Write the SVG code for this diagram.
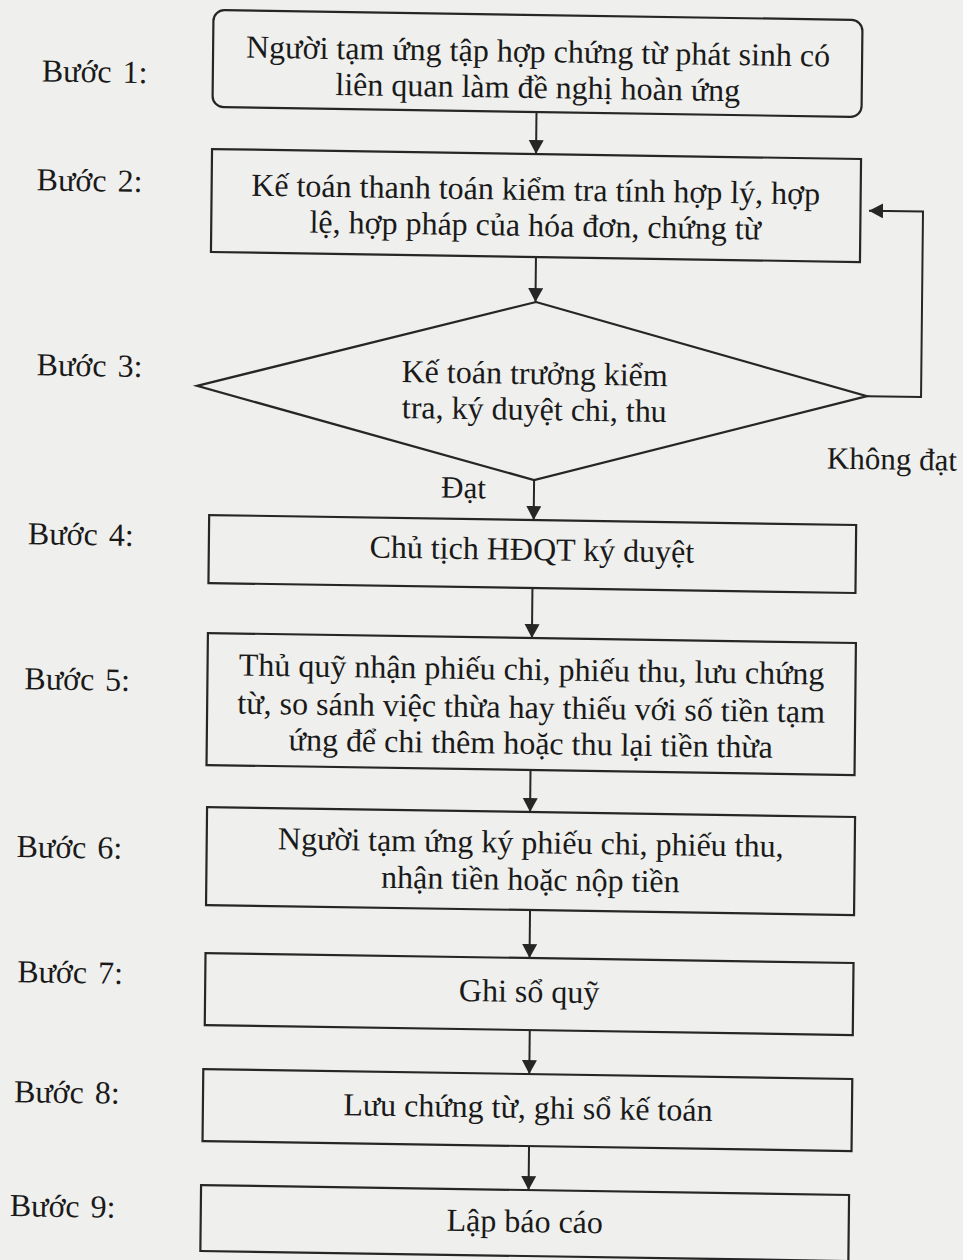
<svg xmlns="http://www.w3.org/2000/svg" width="963" height="1260" viewBox="0 0 963 1260">
  <style>
    .shape { fill: none; stroke: #262626; stroke-width: 2.2; stroke-linejoin: miter; }
    .conn { fill: none; stroke: #262626; stroke-width: 2; }
    .txt { font-family: "Liberation Serif", "Times New Roman", serif; font-size: 32px; fill: #1a1a1a; text-anchor: middle; }
    .step { font-family: "Liberation Serif", "Times New Roman", serif; font-size: 32px; fill: #1a1a1a; }
    .lbl { font-family: "Liberation Serif", "Times New Roman", serif; font-size: 31px; fill: #1a1a1a; text-anchor: middle; }
  </style>
  <defs>
    <marker id="arrow" markerUnits="userSpaceOnUse" markerWidth="16" markerHeight="16" refX="14" refY="7.5" orient="auto">
      <path d="M0,0 L14,7.5 L0,15 Z" fill="#262626"/>
    </marker>
  </defs>

  <rect x="0" y="0" width="963" height="1260" fill="#efefed"/>

  <!-- whole page sits slightly askew -->
  <g transform="matrix(1 0.0154 -0.0106 1 6.68 -8.16)">

    <!-- step labels -->
    <g id="labels">
      <text class="step" x="36" y="89">Bước<tspan dx="11">1:</tspan></text>
      <text class="step" x="32" y="198">Bước<tspan dx="11">2:</tspan></text>
      <text class="step" x="34" y="383">Bước<tspan dx="11">3:</tspan></text>
      <text class="step" x="27" y="552">Bước<tspan dx="11">4:</tspan></text>
      <text class="step" x="25" y="697">Bước<tspan dx="11">5:</tspan></text>
      <text class="step" x="19" y="865">Bước<tspan dx="11">6:</tspan></text>
      <text class="step" x="21" y="990">Bước<tspan dx="11">7:</tspan></text>
      <text class="step" x="19" y="1110">Bước<tspan dx="11">8:</tspan></text>
      <text class="step" x="16" y="1224">Bước<tspan dx="11">9:</tspan></text>
    </g>

    <!-- connectors -->
    <g id="connectors">
      <line class="conn" x1="531" y1="112" x2="531" y2="154" marker-end="url(#arrow)"/>
      <line class="conn" x1="532" y1="257" x2="532" y2="302" marker-end="url(#arrow)"/>
      <line class="conn" x1="532.5" y1="480" x2="532.5" y2="520" marker-end="url(#arrow)"/>
      <line class="conn" x1="532" y1="588" x2="532" y2="638" marker-end="url(#arrow)"/>
      <line class="conn" x1="532" y1="770" x2="532" y2="812" marker-end="url(#arrow)"/>
      <line class="conn" x1="533" y1="910" x2="533" y2="958" marker-end="url(#arrow)"/>
      <line class="conn" x1="534" y1="1030" x2="534" y2="1074" marker-end="url(#arrow)"/>
      <line class="conn" x1="534.5" y1="1146" x2="534.5" y2="1190" marker-end="url(#arrow)"/>
      <path class="conn" d="M864.5,391 H918.5 V205.5 H864.5" marker-end="url(#arrow)"/>
      <text class="lbl" x="890" y="464">Không đạt</text>
      <text class="lbl" x="462" y="499">Đạt</text>
    </g>

    <g id="step1">
      <rect class="shape" x="207" y="15" width="649" height="97" rx="11" ry="11"/>
      <text class="txt" x="532" y="62">Người tạm ứng tập hợp chứng từ phát sinh có</text>
      <text class="txt" x="532" y="98">liên quan làm đề nghị hoàn ứng</text>
    </g>

    <g id="step2">
      <rect class="shape" x="207" y="154" width="649" height="103"/>
      <text class="txt" x="531" y="200">Kế toán thanh toán kiểm tra tính hợp lý, hợp</text>
      <text class="txt" x="531" y="236">lệ, hợp pháp của hóa đơn, chứng từ</text>
    </g>

    <g id="step3">
      <polygon class="shape" points="532.5,302 864.5,391 532.5,480 194.5,391"/>
      <text class="txt" x="532" y="384">Kế toán trưởng kiểm</text>
      <text class="txt" x="532" y="420">tra, ký duyệt chi, thu</text>
    </g>

    <g id="step4">
      <rect class="shape" x="208" y="520" width="647" height="68"/>
      <text class="txt" x="531" y="560">Chủ tịch HĐQT ký duyệt</text>
    </g>

    <g id="step5">
      <rect class="shape" x="208" y="638" width="648" height="132"/>
      <text class="txt" x="532" y="680">Thủ quỹ nhận phiếu chi, phiếu thu, lưu chứng</text>
      <text class="txt" x="532" y="718">từ, so sánh việc thừa hay thiếu với số tiền tạm</text>
      <text class="txt" x="532" y="754">ứng để chi thêm hoặc thu lại tiền thừa</text>
    </g>

    <g id="step6">
      <rect class="shape" x="209" y="812" width="648" height="98"/>
      <text class="txt" x="533" y="853">Người tạm ứng ký phiếu chi, phiếu thu,</text>
      <text class="txt" x="533" y="890">nhận tiền hoặc nộp tiền</text>
    </g>

    <g id="step7">
      <rect class="shape" x="209" y="958" width="648" height="72"/>
      <text class="txt" x="533" y="1002">Ghi sổ quỹ</text>
    </g>

    <g id="step8">
      <rect class="shape" x="208" y="1074" width="649" height="72"/>
      <text class="txt" x="533" y="1118">Lưu chứng từ, ghi sổ kế toán</text>
    </g>

    <g id="step9">
      <rect class="shape" x="207" y="1190" width="648" height="66"/>
      <text class="txt" x="531" y="1232">Lập báo cáo</text>
    </g>
  </g>
</svg>
